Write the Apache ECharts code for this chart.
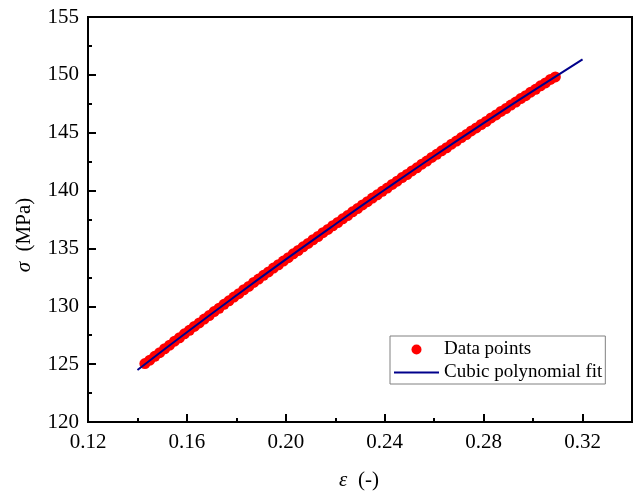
<!DOCTYPE html>
<html>
<head>
<meta charset="utf-8">
<script src="https://cdn.jsdelivr.net/npm/echarts@6/dist/echarts.min.js"></script>
<style>
html,body{margin:0;padding:0;background:#fff;}
#chart{width:636px;height:496px;}
</style>
</head>
<body>
<div id="chart"></div>
<script>
// Measured data points (strain, stress in MPa)
var strainData = [0.143,0.145,0.147,0.149,0.151,0.153,0.155,0.157,0.159,0.161,0.163,0.165,0.167,0.169,0.171,0.173,0.175,0.177,0.179,0.181,0.183,0.185,0.187,0.189,0.191,0.193,0.195,0.197,0.199,0.201,0.203,0.205,0.207,0.209,0.211,0.213,0.215,0.217,0.219,0.221,0.223,0.225,0.227,0.229,0.231,0.233,0.235,0.237,0.239,0.241,0.243,0.245,0.247,0.249,0.251,0.253,0.255,0.257,0.259,0.261,0.263,0.265,0.267,0.269,0.271,0.273,0.275,0.277,0.279,0.281,0.283,0.285,0.287,0.289,0.291,0.293,0.295,0.297,0.299,0.301,0.303,0.305,0.307,0.309];
var stressData = [125.05,125.34,125.68,125.99,126.33,126.64,126.98,127.28,127.62,127.92,128.26,128.56,128.90,129.20,129.54,129.83,130.17,130.47,130.80,131.09,131.43,131.72,132.06,132.35,132.68,132.97,133.30,133.59,133.91,134.20,134.53,134.82,135.14,135.43,135.75,136.03,136.36,136.64,136.96,137.24,137.56,137.84,138.16,138.44,138.76,139.04,139.35,139.63,139.94,140.22,140.53,140.81,141.12,141.39,141.70,141.97,142.28,142.55,142.86,143.13,143.44,143.70,144.01,144.28,144.58,144.84,145.15,145.41,145.71,145.97,146.28,146.54,146.84,147.09,147.39,147.65,147.95,148.20,148.50,148.75,149.05,149.30,149.60,149.82];

// Cubic polynomial fit curve
var fitStrain = [0.140,0.160,0.180,0.200,0.220,0.240,0.260,0.280,0.300,0.320];
var fitStress = [124.50,127.76,130.94,134.05,137.09,140.07,142.99,145.83,148.61,151.33];

var xTicks = {min:0.12, max:0.34, interval:0.04};
var yTicks = {min:120, max:155, interval:5};

var FONT = '"Liberation Serif","DejaVu Serif",serif';

var scatterPts = strainData.map(function(x,i){return [x, stressData[i]];});
var fitPts = fitStrain.map(function(x,i){return [x, fitStress[i]];});

var chart = echarts.init(document.getElementById('chart'), null, {renderer:'canvas'});
chart.setOption({
  animation:false,
  backgroundColor:'#ffffff',
  grid:{left:88, right:4, top:17, bottom:74, show:true, borderColor:'#000', borderWidth:2, backgroundColor:'transparent'},
  legend:{
    orient:'vertical', left:390, top:336,
    padding:[4,3,2,3], itemGap:4,
    itemWidth:45, itemHeight:10,
    borderColor:'#808080', borderWidth:1, backgroundColor:'#fff',
    textStyle:{fontFamily:FONT, fontSize:19, color:'#000', lineHeight:19},
    data:[
      {name:'Data points', icon:'circle'},
      {name:'Cubic polynomial fit',
       itemStyle:{color:'rgba(0,0,0,0)', borderColor:'rgba(0,0,0,0)', borderWidth:0},
       lineStyle:{color:'#00008b', width:2}}
    ]
  },
  xAxis:[{
    type:'value', min:xTicks.min, max:xTicks.max, interval:xTicks.interval,
    position:'bottom',
    axisLine:{show:true, lineStyle:{color:'#000', width:2}},
    axisTick:{show:true, inside:true, length:8, lineStyle:{color:'#000', width:2}},
    minorTick:{show:false},
    splitLine:{show:false},
    axisLabel:{color:'#000', fontFamily:FONT, fontSize:21, margin:10,
      formatter:function(v){ return v > 0.33 ? '' : v.toFixed(2); }}
  },{
    type:'value', min:xTicks.min, max:xTicks.max, interval:xTicks.interval/2,
    position:'bottom',
    axisLine:{show:false},
    axisTick:{show:true, inside:true, length:4, lineStyle:{color:'#000', width:2}},
    splitLine:{show:false},
    axisLabel:{show:false}
  }],
  yAxis:{
    type:'value', min:yTicks.min, max:yTicks.max, interval:yTicks.interval,
    axisLine:{show:true, lineStyle:{color:'#000', width:2}},
    axisTick:{show:true, inside:true, length:8, lineStyle:{color:'#000', width:2}},
    minorTick:{show:true, splitNumber:2, length:4, lineStyle:{color:'#000', width:2}},
    splitLine:{show:false},
    axisLabel:{color:'#000', fontFamily:FONT, fontSize:21, margin:9}
  },
  graphic:[
    {type:'text', x:359, y:480, style:{
      text:'{i|ε}  (-)', x:0, y:0, textAlign:'center', textVerticalAlign:'middle',
      fontFamily:FONT, fontSize:21, fill:'#000',
      rich:{i:{fontFamily:FONT, fontSize:21, fontStyle:'italic'}}
    }},
    {type:'text', x:24, y:235, rotation:Math.PI/2, style:{
      text:'{i|σ}  (MPa)', x:0, y:0, textAlign:'center', textVerticalAlign:'middle',
      fontFamily:FONT, fontSize:21, fill:'#000',
      rich:{i:{fontFamily:FONT, fontSize:21, fontStyle:'italic'}}
    }}
  ],
  series:[
    {name:'Data points', type:'scatter', xAxisIndex:0, data:scatterPts,
     symbol:'circle', symbolSize:11, itemStyle:{color:'#ff0000', opacity:1}, z:2},
    {name:'Cubic polynomial fit', type:'line', xAxisIndex:0, data:fitPts,
     smooth:true, symbol:'none', showSymbol:false,
     lineStyle:{color:'#00008b', width:2}, itemStyle:{color:'#00008b'}, z:3}
  ]
});
</script>
</body>
</html>
